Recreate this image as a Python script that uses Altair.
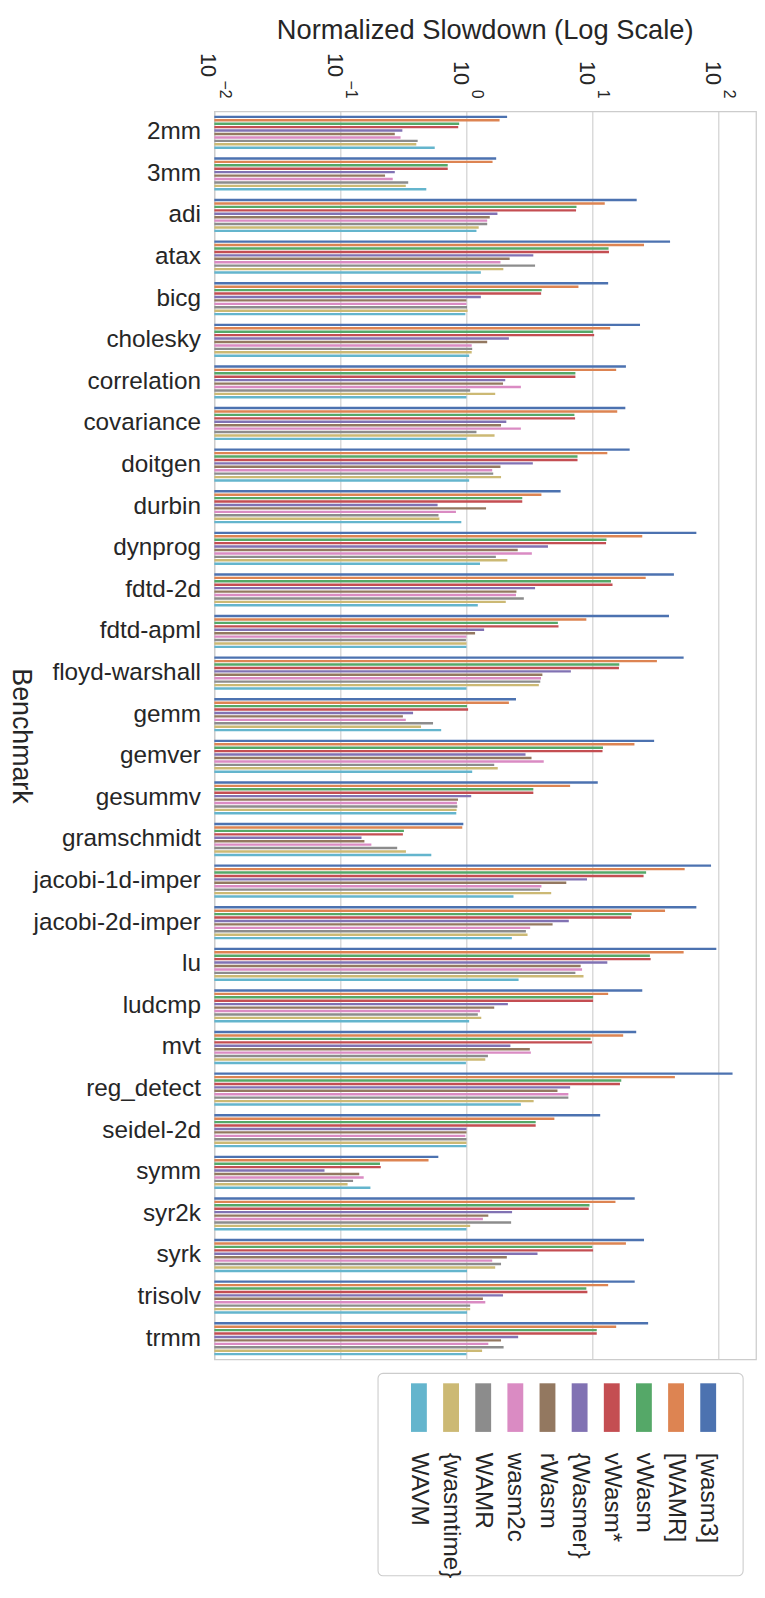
import altair as alt
import pandas as pd

benchmarks = ["2mm", "3mm", "adi", "atax", "bicg", "cholesky", "correlation", "covariance",
              "doitgen", "durbin", "dynprog", "fdtd-2d", "fdtd-apml", "floyd-warshall", "gemm",
              "gemver", "gesummv", "gramschmidt", "jacobi-1d-imper", "jacobi-2d-imper", "lu",
              "ludcmp", "mvt", "reg_detect", "seidel-2d", "symm", "syr2k", "syrk", "trisolv", "trmm"]

series = ["[wasm3]", "[WAMR]", "vWasm", "vWasm*", "{Wasmer}", "rWasm", "wasm2c", "WAMR",
          "{wasmtime}", "WAVM"]
colors = ["#4C72B0", "#DD8452", "#55A868", "#C44E52", "#8172B3", "#937860", "#DA8BC3",
          "#8C8C8C", "#CCB974", "#64B5CD"]
legend_order = ["WAVM", "{wasmtime}", "WAMR", "wasm2c", "rWasm", "{Wasmer}", "vWasm*",
                "vWasm", "[WAMR]", "[wasm3]"]

wasm3_b = [2.10, 1.72, 22.4, 41.2, 13.3, 23.8, 18.4, 18.2, 19.7, 5.58, 66.6, 44.2, 40.4, 52.8,
           2.47, 30.8, 11.0, 0.944, 87.1, 66.6, 95.9, 24.8, 22.2, 129, 11.5, 0.598, 21.6, 25.6,
           21.6, 27.6]
wamr_b = [1.83, 1.61, 12.5, 25.6, 7.73, 13.8, 15.4, 15.7, 13.1, 3.93, 24.8, 26.4, 8.93, 32.4,
          2.17, 21.5, 6.64, 0.926, 53.8, 37.6, 52.8, 13.3, 17.5, 45.0, 4.98, 0.50, 15.2, 18.4,
          13.3, 15.4]
vwasm = [0.875, 0.71, 7.46, 13.4, 3.95, 10.1, 7.31, 7.18, 7.6, 2.77, 12.9, 14.0, 5.31, 16.3,
         1.01, 12.1, 3.39, 0.319, 26.6, 20.4, 28.5, 10.1, 9.64, 16.9, 3.54, 0.206, 9.46, 9.96,
         8.93, 10.8]
vwasm_star = [0.86, 0.71, 7.4, 13.5, 3.91, 10.3, 7.31, 7.27, 7.6, 2.77, 12.8, 14.4, 5.37, 16.2,
              1.03, 12.0, 3.39, 0.313, 25.4, 20.2, 28.9, 10.1, 9.89, 16.5, 3.54, 0.209, 9.33,
              10.1, 9.10, 10.8]
wasmer_c = [0.31, 0.27, 1.76, 3.39, 1.30, 2.17, 2.03, 2.07, 3.36, 0.59, 4.43, 3.50, 1.38, 6.73,
            0.377, 2.94, 1.09, 0.147, 9.04, 6.48, 13.1, 2.13, 2.23, 6.64, 1.0, 0.0748, 2.30,
            3.66, 1.95, 2.57]
rwasm = [0.27, 0.226, 1.53, 2.2, 1.0, 1.46, 1.95, 1.88, 1.86, 1.43, 2.55, 2.49, 1.17, 4.0,
         0.313, 3.28, 0.857, 0.155, 6.19, 4.82, 8.05, 1.66, 3.18, 5.27, 1.0, 0.141, 1.49, 2.09,
         1.35, 1.88]
wasm2c = [0.30, 0.26, 1.46, 1.86, 1.0, 1.10, 2.70, 2.70, 1.60, 0.825, 3.30, 2.47, 1.0, 3.90,
          0.33, 4.10, 0.84, 0.176, 3.93, 3.20, 8.26, 1.28, 3.24, 6.43, 0.98, 0.153, 1.35, 1.60,
          1.41, 1.49]
wamr = [0.41, 0.345, 1.46, 3.5, 1.01, 1.11, 1.07, 1.20, 1.63, 0.60, 1.71, 2.85, 0.99, 3.85,
        0.543, 1.66, 0.846, 0.282, 3.83, 2.96, 7.31, 1.23, 1.48, 6.43, 1.0, 0.126, 2.26, 1.88,
        1.07, 1.97]
wasmtime_c = [0.40, 0.33, 1.25, 1.96, 1.02, 1.10, 1.69, 1.67, 1.88, 0.61, 2.11, 2.05, 1.0, 3.75,
              0.436, 1.77, 0.835, 0.331, 4.70, 3.05, 8.48, 1.31, 1.41, 3.41, 1.0, 0.114, 1.07,
              1.69, 1.07, 1.33]
wavm = [0.56, 0.48, 1.20, 1.30, 0.98, 1.05, 1.0, 1.0, 1.05, 0.91, 1.28, 1.23, 1.0, 1.0, 0.63,
        1.11, 0.83, 0.526, 2.36, 2.29, 2.59, 1.05, 0.99, 2.70, 1.0, 0.173, 1.0, 1.01, 1.01, 1.0]

values_by_series = [wasm3_b, wamr_b, vwasm, vwasm_star, wasmer_c, rwasm, wasm2c, wamr,
                    wasmtime_c, wavm]

tick_values = [0.01, 0.1, 1, 10, 100]
tick_bases = ["10", "10", "10", "10", "10"]
tick_exponents = ["\u22122", "\u22121", "0", "1", "2"]
x_title = ["Normalized Slowdown (Log Scale)"]

rows = []
for s, vals in zip(series, values_by_series):
    for b, v in zip(benchmarks, vals):
        rows.append({"benchmark": b, "series": s, "value": v})
df = pd.DataFrame(rows)
ticks_df = pd.DataFrame({"tick": tick_values, "base": tick_bases, "exp": tick_exponents})
title_df = pd.DataFrame({"t": x_title})
leg_df = pd.DataFrame({"series": legend_order})

FONT = "Liberation Sans"
TXT = "#262626"
W, H = 546, 1258
LEG_TOP = H + 14          # legend box top, below the plot area
LEG_BOTTOM = H + 218      # legend box bottom

color_scale = alt.Scale(domain=series, range=colors)
x_scale = alt.Scale(type="log", domain=[0.01, 198], nice=False, clamp=True)

bars = alt.Chart(df).mark_bar().encode(
    y=alt.Y("benchmark:N", sort=benchmarks,
            scale=alt.Scale(paddingInner=0.2, paddingOuter=0.1),
            axis=alt.Axis(title="Benchmark", titleAngle=90, titleBaseline="top",
                          titleFontSize=27, titleFont=FONT, titleColor=TXT,
                          titleFontWeight="normal", titlePadding=0,
                          labelFontSize=24.5, labelFont=FONT, labelColor=TXT,
                          labelPadding=14, ticks=False, domain=False, grid=False,
                          labelLimit=400)),
    yOffset=alt.YOffset("series:N", sort=series,
                        scale=alt.Scale(paddingInner=0.3, paddingOuter=0)),
    x=alt.X("value:Q", scale=x_scale,
            axis=alt.Axis(orient="top", title=None, values=tick_values, labels=False,
                          ticks=False, domain=False, grid=True, gridColor="#cccccc",
                          gridWidth=1.1)),
    x2=alt.datum(0.01),
    color=alt.Color("series:N", scale=color_scale, legend=None),
)

tick_x = alt.X("tick:Q", scale=x_scale, axis=None)

tick_base_neg = alt.Chart(ticks_df).transform_filter(alt.datum.tick < 1).mark_text(
    angle=90, align="left", baseline="middle", fontSize=22, font=FONT, color=TXT, dy=6
).encode(x=tick_x, y=alt.value(-59), text="base:N")

tick_base_pos = alt.Chart(ticks_df).transform_filter(alt.datum.tick >= 1).mark_text(
    angle=90, align="left", baseline="middle", fontSize=22, font=FONT, color=TXT, dy=6
).encode(x=tick_x, y=alt.value(-51), text="base:N")

tick_exp = alt.Chart(ticks_df).mark_text(
    angle=90, align="right", baseline="middle", fontSize=16, font=FONT, color=TXT, dy=-10.5
).encode(x=tick_x, y=alt.value(-13), text="exp:N")

x_title_mark = alt.Chart(title_df).mark_text(
    align="center", baseline="alphabetic", fontSize=27.5, font=FONT, color=TXT
).encode(x=alt.value(W / 2), y=alt.value(-73), text="t:N")

leg_x = alt.X("series:N", sort=legend_order,
              scale=alt.Scale(type="point", range=[190, 514]), axis=None)

frame = alt.Chart(title_df).mark_rect(
    fill="white", fillOpacity=0, stroke="#cccccc", strokeWidth=1.1, cornerRadius=5
).encode(x=alt.value(165), x2=alt.value(533), y=alt.value(LEG_TOP),
         y2=alt.value(LEG_BOTTOM))

swatches = alt.Chart(leg_df).mark_bar(width=16).encode(
    x=leg_x, y=alt.value(LEG_TOP + 10), y2=alt.value(LEG_TOP + 59),
    color=alt.Color("series:N", scale=color_scale, legend=None))

labels = alt.Chart(leg_df).mark_text(
    angle=90, align="left", baseline="middle", fontSize=24.5, font=FONT, color=TXT
).encode(x=leg_x, y=alt.value(LEG_TOP + 80), text="series:N")

chart = alt.layer(bars, tick_base_neg, tick_base_pos, tick_exp, x_title_mark,
                  frame, swatches, labels).resolve_scale(
    x="independent"
).properties(
    width=W, height=H,
    view=alt.ViewBackground(stroke="#cccccc", strokeWidth=1.25),
    autosize=alt.AutoSizeParams(type="none"),
    padding={"left": 208, "top": 98, "right": 1, "bottom": 220},
).configure(background="white", font=FONT)

chart.save("out.html", embed_options={"renderer": "svg", "actions": False})
